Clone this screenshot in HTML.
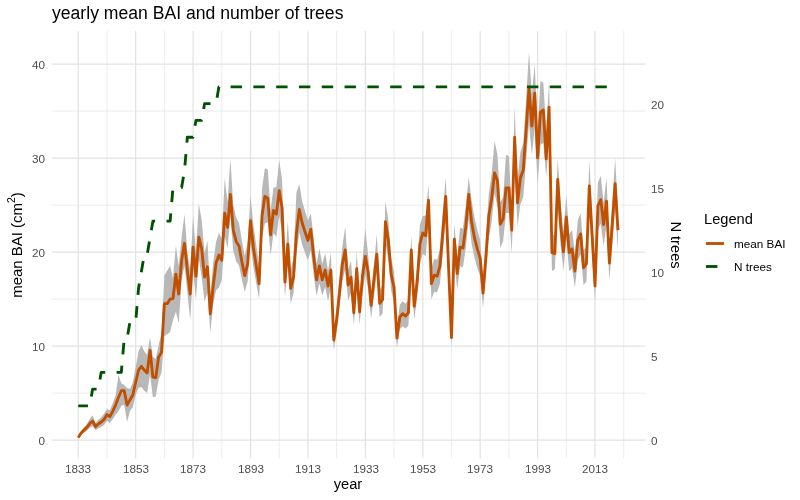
<!DOCTYPE html>
<html><head><meta charset="utf-8"><title>chart</title>
<style>
html,body{margin:0;padding:0;background:#fff;}
body{width:800px;height:500px;position:relative;overflow:hidden;font-family:"Liberation Sans",sans-serif;}
.t{position:absolute;white-space:nowrap;line-height:1.2;will-change:transform;}
.r{position:absolute;white-space:nowrap;line-height:1.2;font-size:14.67px;color:#000;}
sup{font-size:70%;vertical-align:baseline;position:relative;top:-0.63em;line-height:0;}
</style></head><body>
<svg width="800" height="500" viewBox="0 0 800 500" style="position:absolute;left:0;top:0">
<line x1="51.7" x2="645.0" y1="393.18" y2="393.18" stroke="#e2e2e2" stroke-width="0.65"/>
<line x1="51.7" x2="645.0" y1="299.12" y2="299.12" stroke="#e2e2e2" stroke-width="0.65"/>
<line x1="51.7" x2="645.0" y1="205.08" y2="205.08" stroke="#e2e2e2" stroke-width="0.65"/>
<line x1="51.7" x2="645.0" y1="111.03" y2="111.03" stroke="#e2e2e2" stroke-width="0.65"/>
<line x1="106.96" x2="106.96" y1="31" y2="458.3" stroke="#e2e2e2" stroke-width="0.65"/>
<line x1="164.38" x2="164.38" y1="31" y2="458.3" stroke="#e2e2e2" stroke-width="0.65"/>
<line x1="221.80" x2="221.80" y1="31" y2="458.3" stroke="#e2e2e2" stroke-width="0.65"/>
<line x1="279.22" x2="279.22" y1="31" y2="458.3" stroke="#e2e2e2" stroke-width="0.65"/>
<line x1="336.64" x2="336.64" y1="31" y2="458.3" stroke="#e2e2e2" stroke-width="0.65"/>
<line x1="394.06" x2="394.06" y1="31" y2="458.3" stroke="#e2e2e2" stroke-width="0.65"/>
<line x1="451.48" x2="451.48" y1="31" y2="458.3" stroke="#e2e2e2" stroke-width="0.65"/>
<line x1="508.90" x2="508.90" y1="31" y2="458.3" stroke="#e2e2e2" stroke-width="0.65"/>
<line x1="566.32" x2="566.32" y1="31" y2="458.3" stroke="#e2e2e2" stroke-width="0.65"/>
<line x1="623.74" x2="623.74" y1="31" y2="458.3" stroke="#e2e2e2" stroke-width="0.65"/>
<line x1="51.7" x2="645.0" y1="440.20" y2="440.20" stroke="#e2e2e2" stroke-width="1.25"/>
<line x1="51.7" x2="645.0" y1="346.15" y2="346.15" stroke="#e2e2e2" stroke-width="1.25"/>
<line x1="51.7" x2="645.0" y1="252.10" y2="252.10" stroke="#e2e2e2" stroke-width="1.25"/>
<line x1="51.7" x2="645.0" y1="158.05" y2="158.05" stroke="#e2e2e2" stroke-width="1.25"/>
<line x1="51.7" x2="645.0" y1="64.00" y2="64.00" stroke="#e2e2e2" stroke-width="1.25"/>
<line x1="78.25" x2="78.25" y1="31" y2="458.3" stroke="#e2e2e2" stroke-width="1.2"/>
<line x1="135.67" x2="135.67" y1="31" y2="458.3" stroke="#e2e2e2" stroke-width="1.2"/>
<line x1="193.09" x2="193.09" y1="31" y2="458.3" stroke="#e2e2e2" stroke-width="1.2"/>
<line x1="250.51" x2="250.51" y1="31" y2="458.3" stroke="#e2e2e2" stroke-width="1.2"/>
<line x1="307.93" x2="307.93" y1="31" y2="458.3" stroke="#e2e2e2" stroke-width="1.2"/>
<line x1="365.35" x2="365.35" y1="31" y2="458.3" stroke="#e2e2e2" stroke-width="1.2"/>
<line x1="422.77" x2="422.77" y1="31" y2="458.3" stroke="#e2e2e2" stroke-width="1.2"/>
<line x1="480.19" x2="480.19" y1="31" y2="458.3" stroke="#e2e2e2" stroke-width="1.2"/>
<line x1="537.61" x2="537.61" y1="31" y2="458.3" stroke="#e2e2e2" stroke-width="1.2"/>
<line x1="595.03" x2="595.03" y1="31" y2="458.3" stroke="#e2e2e2" stroke-width="1.2"/>
<polygon points="78.25,437.10 81.12,431.09 83.99,427.48 86.86,423.88 89.73,419.07 92.61,415.37 95.48,423.04 98.35,419.67 101.22,417.15 104.09,413.79 106.96,408.99 109.83,410.18 112.70,403.45 115.57,395.40 118.44,375.01 121.31,383.18 124.19,385.05 127.06,388.06 129.93,389.03 132.80,382.54 135.67,367.22 138.54,351.26 141.41,345.06 144.28,351.26 147.15,355.01 150.03,337.18 152.90,356.89 155.77,358.77 158.64,345.06 161.51,333.42 164.38,275.22 167.25,270.52 170.12,265.83 172.99,278.04 175.86,246.12 178.74,265.83 181.61,237.67 184.48,214.20 187.35,251.75 190.22,270.06 193.09,216.08 195.96,251.75 198.83,203.87 201.70,220.35 204.57,252.74 207.44,240.86 210.32,294.84 213.19,262.99 216.06,241.84 218.93,232.90 221.80,238.68 224.67,178.06 227.54,201.88 230.41,158.81 233.28,205.04 236.16,217.65 239.03,222.91 241.90,240.79 244.77,255.93 247.64,242.89 250.51,195.43 253.38,225.01 256.25,244.99 259.12,264.97 261.99,189.27 264.87,168.20 267.74,169.29 270.61,210.29 273.48,187.45 276.35,187.16 279.22,159.75 282.09,180.33 284.96,263.18 287.83,220.81 290.70,270.22 293.57,257.61 296.45,192.61 299.32,184.16 302.19,201.38 305.06,211.29 307.93,220.58 310.80,213.26 313.67,238.14 316.54,263.95 319.41,248.46 322.28,263.95 325.16,253.11 328.03,270.67 330.90,253.11 333.77,330.04 336.64,308.36 339.51,277.38 342.38,246.40 345.25,226.40 348.12,269.63 351.00,260.86 353.87,300.10 356.74,251.56 359.61,299.06 362.48,259.82 365.35,228.28 368.22,255.69 371.09,291.83 373.96,263.95 376.83,233.91 379.70,289.77 382.58,285.64 385.45,201.06 388.32,220.07 391.19,257.76 394.06,272.21 396.93,327.98 399.80,304.74 402.67,301.13 405.54,303.71 408.42,300.10 411.29,235.79 414.16,292.87 417.03,268.08 419.90,224.71 422.77,216.08 425.64,215.42 428.51,184.16 431.38,268.08 434.25,258.79 437.12,259.82 440.00,248.46 442.87,210.26 445.74,177.12 448.61,250.53 451.48,327.46 454.35,224.06 457.22,256.73 460.09,227.81 462.96,228.84 465.83,205.09 468.71,177.12 471.58,199.93 474.45,217.49 477.32,229.88 480.19,240.20 483.06,278.41 485.93,238.14 488.80,193.74 491.67,174.12 494.55,140.98 497.42,154.50 500.29,202.51 503.16,196.83 506.03,155.06 508.90,156.00 511.77,209.22 514.64,107.18 517.51,179.28 520.38,151.91 523.25,143.14 526.13,98.73 529.00,51.80 531.87,94.60 534.74,64.00 537.61,129.71 540.48,80.90 543.35,82.78 546.22,130.75 549.09,80.90 551.96,234.01 554.84,235.04 557.71,157.88 560.58,202.00 563.45,232.98 566.32,194.77 569.19,234.01 572.06,229.88 574.93,254.14 577.80,220.07 580.67,213.36 583.55,250.53 586.42,246.40 589.29,159.75 592.16,215.42 595.03,270.67 597.90,182.38 600.77,175.66 603.64,203.03 606.51,177.21 609.38,245.37 612.26,202.51 615.13,158.11 618.00,209.22 618.00,251.09 615.13,209.27 612.26,245.60 609.38,280.66 606.51,224.90 603.64,246.02 600.77,223.63 597.90,229.13 595.03,301.36 592.16,256.16 589.29,211.38 586.42,281.51 583.55,284.89 580.67,254.47 577.80,259.96 574.93,287.84 572.06,267.99 569.19,271.37 566.32,239.26 563.45,270.52 560.58,245.18 557.71,205.47 554.84,269.12 551.96,271.37 549.09,140.41 546.22,176.65 543.35,142.95 540.48,144.64 537.61,184.16 534.74,127.74 531.87,155.06 529.00,123.52 526.13,160.69 523.25,197.02 520.38,204.20 517.51,225.93 514.64,167.45 511.77,253.16 508.90,213.07 506.03,213.07 503.16,240.95 500.29,248.00 497.42,206.31 494.55,193.55 491.67,222.37 488.80,238.42 485.93,274.75 483.06,307.70 480.19,276.44 477.32,267.99 474.45,257.85 471.58,243.49 468.71,218.99 465.83,247.71 462.96,267.15 460.09,266.30 457.22,289.96 454.35,259.12 451.48,347.83 448.61,284.89 445.74,220.68 442.87,251.94 440.00,283.20 437.12,292.49 434.25,291.65 431.38,299.25 428.51,224.06 425.64,256.16 422.77,253.63 419.90,263.77 417.03,299.25 414.16,319.53 411.29,268.84 408.42,325.44 405.54,328.40 402.67,326.29 399.80,329.24 396.93,348.25 394.06,302.63 391.19,290.80 388.32,259.96 385.45,243.49 382.58,313.61 379.70,316.99 376.83,272.64 373.96,295.87 371.09,318.68 368.22,289.11 365.35,274.75 362.48,292.49 359.61,324.60 356.74,285.73 353.87,325.44 351.00,293.34 348.12,300.52 345.25,268.84 342.38,281.51 339.51,306.85 336.64,332.20 333.77,349.94 330.90,287.00 328.03,301.36 325.16,287.00 322.28,295.87 319.41,283.20 316.54,295.87 313.67,274.75 310.80,250.25 307.93,260.39 305.06,252.78 302.19,244.67 299.32,232.51 296.45,253.63 293.57,293.34 290.70,303.48 287.83,263.77 284.96,297.81 282.09,231.24 279.22,216.08 276.35,236.73 273.48,233.35 270.61,255.32 267.74,222.37 264.87,223.59 261.99,238.42 259.12,299.25 256.25,283.20 253.38,267.15 250.51,242.64 247.64,281.51 244.77,291.98 241.90,279.82 239.03,265.46 236.16,261.23 233.28,251.09 230.41,216.08 227.54,248.56 224.67,235.79 221.80,279.91 218.93,287.42 216.06,290.24 213.19,304.32 210.32,332.58 207.44,292.68 204.57,301.46 201.70,277.52 198.83,258.32 195.96,300.10 193.09,270.06 190.22,320.28 187.35,292.12 184.48,265.83 181.61,279.91 178.74,323.10 175.86,311.83 172.99,320.28 170.12,332.01 167.25,334.36 164.38,336.24 161.51,372.85 158.64,379.42 155.77,396.32 152.90,397.26 150.03,374.73 147.15,393.03 144.28,390.69 141.41,386.93 138.54,387.87 135.67,395.00 132.80,407.46 129.93,411.11 127.06,422.04 124.19,404.77 121.31,405.70 118.44,411.34 115.57,414.69 112.70,419.22 109.83,423.01 106.96,420.73 104.09,425.04 101.22,426.93 98.35,428.35 95.48,430.24 92.61,426.36 89.73,428.01 86.86,430.71 83.99,432.74 81.12,434.77 78.25,438.15" fill="#b8b8b8"/>
<polyline points="78.25,437.62 81.12,432.93 83.99,430.11 86.86,427.30 89.73,423.54 92.61,421.01 95.48,426.64 98.35,424.01 101.22,422.04 104.09,419.41 106.96,414.62 109.83,416.59 112.70,411.34 115.57,405.05 118.44,397.44 121.31,390.69 124.19,390.69 127.06,405.05 129.93,400.07 132.80,395.00 135.67,382.24 138.54,370.03 141.41,366.28 144.28,370.03 147.15,373.04 150.03,350.32 152.90,377.07 155.77,377.54 158.64,356.89 161.51,352.20 164.38,303.66 167.25,303.66 170.12,299.06 172.99,298.69 175.86,274.28 178.74,293.99 181.61,260.20 184.48,243.30 187.35,270.06 190.22,293.99 193.09,247.06 195.96,276.16 198.83,237.11 201.70,248.93 204.57,277.10 207.44,266.77 210.32,313.71 213.19,286.01 216.06,263.01 218.93,255.04 221.80,260.20 224.67,213.26 227.54,227.34 230.41,194.49 233.28,230.16 236.16,241.42 239.03,246.12 241.90,262.08 244.77,275.59 247.64,263.95 250.51,220.77 253.38,248.00 256.25,265.83 259.12,283.67 261.99,216.08 264.87,196.36 267.74,198.24 270.61,234.85 273.48,210.45 276.35,214.20 279.22,190.73 282.09,208.10 284.96,282.07 287.83,244.24 290.70,288.36 293.57,277.10 296.45,232.98 299.32,209.51 302.19,223.02 305.06,232.04 307.93,240.49 310.80,229.22 313.67,256.44 316.54,279.91 319.41,265.83 322.28,279.91 325.16,270.06 328.03,286.01 330.90,270.06 333.77,339.99 336.64,320.28 339.51,292.12 342.38,263.95 345.25,249.87 348.12,285.08 351.00,277.10 353.87,312.77 356.74,268.65 359.61,311.83 362.48,276.16 365.35,256.44 368.22,272.40 371.09,305.26 373.96,279.91 376.83,254.10 379.70,303.38 382.58,299.63 385.45,221.71 388.32,240.02 391.19,274.28 394.06,287.42 396.93,338.12 399.80,316.99 402.67,313.71 405.54,316.05 408.42,312.77 411.29,249.87 414.16,306.20 417.03,283.67 419.90,244.24 422.77,232.98 425.64,235.79 428.51,200.12 431.38,283.67 434.25,275.22 437.12,276.16 440.00,265.83 442.87,231.10 445.74,196.36 448.61,267.71 451.48,337.65 454.35,239.08 457.22,273.34 460.09,247.06 462.96,248.00 465.83,226.40 468.71,194.49 471.58,221.71 474.45,237.67 477.32,248.93 480.19,258.32 483.06,293.06 485.93,256.44 488.80,216.08 491.67,198.24 494.55,172.90 497.42,180.41 500.29,224.06 503.16,218.89 506.03,187.92 508.90,187.92 511.77,230.16 514.64,137.22 517.51,202.94 520.38,178.06 523.25,170.08 526.13,129.71 529.00,88.41 531.87,125.96 534.74,93.10 537.61,157.88 540.48,111.88 543.35,110.00 546.22,158.81 549.09,107.18 551.96,252.69 554.84,253.63 557.71,179.47 560.58,223.59 563.45,251.75 566.32,217.02 569.19,252.69 572.06,248.93 574.93,270.99 577.80,240.02 580.67,233.91 583.55,267.71 586.42,263.95 589.29,186.04 592.16,235.79 595.03,286.01 597.90,205.75 600.77,199.65 603.64,224.53 606.51,201.06 609.38,263.01 612.26,224.06 615.13,183.69 618.00,230.16" fill="none" stroke="#c14f00" stroke-width="2.85" stroke-linejoin="round" stroke-linecap="butt"/>
<polyline points="78.25,405.91 81.12,405.91 83.99,405.91 86.86,405.91 89.73,405.91 92.61,389.12 95.48,389.12 98.35,389.12 101.22,372.32 104.09,372.32 106.96,372.32 109.83,372.32 112.70,372.32 115.57,372.32 118.44,372.32 121.31,372.32 124.19,338.73 127.06,338.73 129.93,321.94 132.80,321.94 135.67,321.94 138.54,288.35 141.41,271.56 144.28,254.76 147.15,254.76 150.03,237.97 152.90,221.17 155.77,221.17 158.64,221.17 161.51,221.17 164.38,221.17 167.25,221.17 170.12,221.17 172.99,187.59 175.86,187.59 178.74,187.59 181.61,187.59 184.48,170.79 187.35,137.20 190.22,137.20 193.09,137.20 195.96,120.41 198.83,120.41 201.70,120.41 204.57,103.62 207.44,103.62 210.32,103.62 213.19,103.62 216.06,103.62 218.93,86.82 221.80,86.82 224.67,86.82 227.54,86.82 230.41,86.82 233.28,86.82 236.16,86.82 239.03,86.82 241.90,86.82 244.77,86.82 247.64,86.82 250.51,86.82 253.38,86.82 256.25,86.82 259.12,86.82 261.99,86.82 264.87,86.82 267.74,86.82 270.61,86.82 273.48,86.82 276.35,86.82 279.22,86.82 282.09,86.82 284.96,86.82 287.83,86.82 290.70,86.82 293.57,86.82 296.45,86.82 299.32,86.82 302.19,86.82 305.06,86.82 307.93,86.82 310.80,86.82 313.67,86.82 316.54,86.82 319.41,86.82 322.28,86.82 325.16,86.82 328.03,86.82 330.90,86.82 333.77,86.82 336.64,86.82 339.51,86.82 342.38,86.82 345.25,86.82 348.12,86.82 351.00,86.82 353.87,86.82 356.74,86.82 359.61,86.82 362.48,86.82 365.35,86.82 368.22,86.82 371.09,86.82 373.96,86.82 376.83,86.82 379.70,86.82 382.58,86.82 385.45,86.82 388.32,86.82 391.19,86.82 394.06,86.82 396.93,86.82 399.80,86.82 402.67,86.82 405.54,86.82 408.42,86.82 411.29,86.82 414.16,86.82 417.03,86.82 419.90,86.82 422.77,86.82 425.64,86.82 428.51,86.82 431.38,86.82 434.25,86.82 437.12,86.82 440.00,86.82 442.87,86.82 445.74,86.82 448.61,86.82 451.48,86.82 454.35,86.82 457.22,86.82 460.09,86.82 462.96,86.82 465.83,86.82 468.71,86.82 471.58,86.82 474.45,86.82 477.32,86.82 480.19,86.82 483.06,86.82 485.93,86.82 488.80,86.82 491.67,86.82 494.55,86.82 497.42,86.82 500.29,86.82 503.16,86.82 506.03,86.82 508.90,86.82 511.77,86.82 514.64,86.82 517.51,86.82 520.38,86.82 523.25,86.82 526.13,86.82 529.00,86.82 531.87,86.82 534.74,86.82 537.61,86.82 540.48,86.82 543.35,86.82 546.22,86.82 549.09,86.82 551.96,86.82 554.84,86.82 557.71,86.82 560.58,86.82 563.45,86.82 566.32,86.82 569.19,86.82 572.06,86.82 574.93,86.82 577.80,86.82 580.67,86.82 583.55,86.82 586.42,86.82 589.29,86.82 592.16,86.82 595.03,86.82 597.90,86.82 600.77,86.82 603.64,86.82 606.51,86.82 609.38,86.82 612.26,86.82 615.13,86.82 618.00,86.82" fill="none" stroke="#005200" stroke-width="2.85" stroke-linejoin="round" stroke-dasharray="11.4 11.4" stroke-dashoffset="1.7"/>
<line x1="706" x2="724" y1="243.5" y2="243.5" stroke="#c14f00" stroke-width="2.85"/>
<line x1="706" x2="717.4" y1="266.5" y2="266.5" stroke="#005200" stroke-width="2.85"/>
</svg>
<div class="t" style="left:51.50px;top:3.34px;font-size:17.6px;color:#000;transform:translateX(0);">yearly mean BAI and number of trees</div>
<div class="t" style="left:44.90px;top:434.10px;font-size:11.73px;color:#4d4d4d;transform:translateX(-100%);">0</div>
<div class="t" style="left:44.90px;top:340.05px;font-size:11.73px;color:#4d4d4d;transform:translateX(-100%);">10</div>
<div class="t" style="left:44.90px;top:246.00px;font-size:11.73px;color:#4d4d4d;transform:translateX(-100%);">20</div>
<div class="t" style="left:44.90px;top:151.95px;font-size:11.73px;color:#4d4d4d;transform:translateX(-100%);">30</div>
<div class="t" style="left:44.90px;top:57.90px;font-size:11.73px;color:#4d4d4d;transform:translateX(-100%);">40</div>
<div class="t" style="left:78.45px;top:461.90px;font-size:11.73px;color:#4d4d4d;transform:translateX(-50%);">1833</div>
<div class="t" style="left:135.87px;top:461.90px;font-size:11.73px;color:#4d4d4d;transform:translateX(-50%);">1853</div>
<div class="t" style="left:193.29px;top:461.90px;font-size:11.73px;color:#4d4d4d;transform:translateX(-50%);">1873</div>
<div class="t" style="left:250.71px;top:461.90px;font-size:11.73px;color:#4d4d4d;transform:translateX(-50%);">1893</div>
<div class="t" style="left:308.13px;top:461.90px;font-size:11.73px;color:#4d4d4d;transform:translateX(-50%);">1913</div>
<div class="t" style="left:365.55px;top:461.90px;font-size:11.73px;color:#4d4d4d;transform:translateX(-50%);">1933</div>
<div class="t" style="left:422.97px;top:461.90px;font-size:11.73px;color:#4d4d4d;transform:translateX(-50%);">1953</div>
<div class="t" style="left:480.39px;top:461.90px;font-size:11.73px;color:#4d4d4d;transform:translateX(-50%);">1973</div>
<div class="t" style="left:537.81px;top:461.90px;font-size:11.73px;color:#4d4d4d;transform:translateX(-50%);">1993</div>
<div class="t" style="left:595.23px;top:461.90px;font-size:11.73px;color:#4d4d4d;transform:translateX(-50%);">2013</div>
<div class="t" style="left:650.80px;top:434.10px;font-size:11.73px;color:#4d4d4d;transform:translateX(0);">0</div>
<div class="t" style="left:650.80px;top:349.97px;font-size:11.73px;color:#4d4d4d;transform:translateX(0);">5</div>
<div class="t" style="left:650.80px;top:265.84px;font-size:11.73px;color:#4d4d4d;transform:translateX(0);">10</div>
<div class="t" style="left:650.80px;top:181.71px;font-size:11.73px;color:#4d4d4d;transform:translateX(0);">15</div>
<div class="t" style="left:650.80px;top:97.59px;font-size:11.73px;color:#4d4d4d;transform:translateX(0);">20</div>
<div class="t" style="left:348.00px;top:475.91px;font-size:14.67px;color:#000;transform:translateX(-50%);">year</div>
<div class="t" style="left:703.60px;top:210.81px;font-size:14.67px;color:#000;transform:translateX(0);">Legend</div>
<div class="t" style="left:733.60px;top:236.50px;font-size:11.73px;color:#000;transform:translateX(0);">mean BAI</div>
<div class="t" style="left:733.60px;top:259.50px;font-size:11.73px;color:#000;transform:translateX(0);">N trees</div>
<div style="position:absolute;left:0;top:0;width:800px;height:500px;will-change:transform;">
<div class="r" style="left:16.8px;top:244.6px;font-size:14.95px;transform:translate(-50%,-50%) rotate(-90deg);">mean BAI (cm<sup>2</sup>)</div>
<div class="r" style="left:675px;top:244.8px;transform:translate(-50%,-50%) rotate(90deg);">N trees</div>
</div>
</body></html>
